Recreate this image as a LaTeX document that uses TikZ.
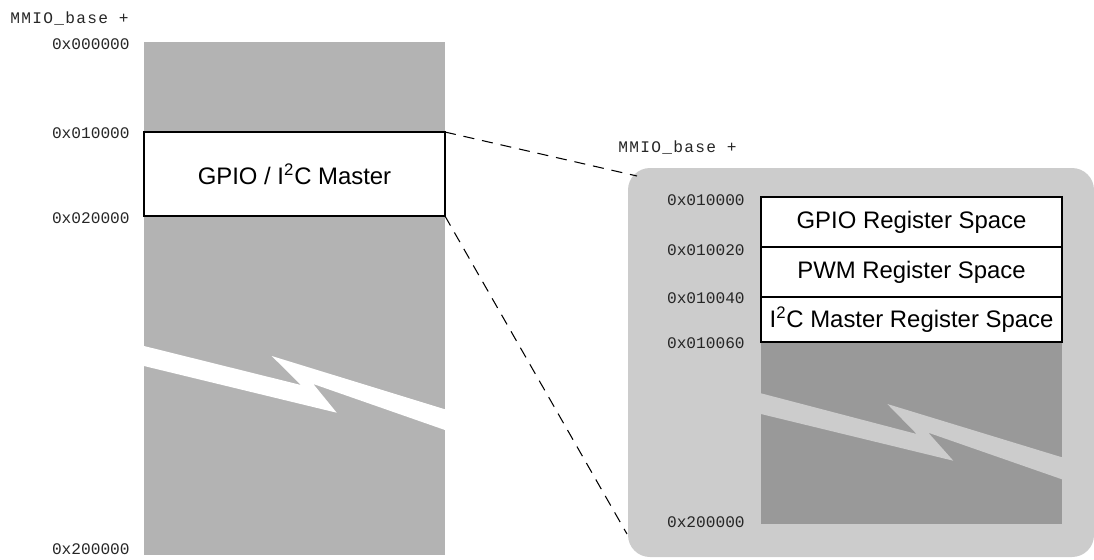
\documentclass[tikz,border=0pt]{standalone}
\usepackage{fontspec}
\setmainfont{Liberation Sans}
\newfontfamily\addrfont{Liberation Mono}
\usetikzlibrary{positioning}
\definecolor{memgray}{HTML}{B3B3B3}
\definecolor{zoomgray}{HTML}{CCCCCC}
\definecolor{darkgray}{HTML}{999999}

\begin{document}
\begin{tikzpicture}[x=0.02cm,y=-0.02cm,
  addr/.style={anchor=east,inner sep=0pt,text=black!85,font=\addrfont\fontsize{9.2}{11}\selectfont},
  base/.style={anchor=base west,inner sep=0pt,text=black!85,font=\addrfont\fontsize{9.2}{11}\selectfont\addfontfeatures{LetterSpace=8}},
  regbox/.style={draw,fill=white,line width=1.1pt,minimum width=6.02cm,inner sep=0pt,outer sep=0pt,font=\fontsize{13.6}{16}\selectfont}]
\useasboundingbox (0,0) rectangle (1094,559);
% whole memory map
\fill[memgray] (144,42) rectangle (445,555);
\fill[white] (144,346) -- (301,385) -- (271.7,356) -- (445,409.3) -- (445,430)
  -- (313.3,384) -- (336.7,412.7) -- (144,366) -- cycle;
\node[regbox,minimum height=1.68cm] (gpio) at (294.5,174) {GPIO / I\textsuperscript{2}C Master};
\node[base] (base1) at (10,23.3) {MMIO\_base +};
\node[addr] (a0) at (130,44) {0x000000};
\node[addr] (a1) at (130,133) {0x010000};
\node[addr] (a2) at (130,218) {0x020000};
\node[addr] (a3) at (130,549) {0x200000};
% zoomed part
\fill[zoomgray,rounded corners=0.44cm] (628,168) rectangle (1094,557);
\fill[darkgray] (761,342.3) rectangle (1062,524.3);
\fill[zoomgray] (761,393.3) -- (916.7,434) -- (887.3,404) -- (1062,457.3) -- (1062,479.3)
  -- (928.3,432.7) -- (953.3,460.7) -- (761,414) -- cycle;
\node[regbox,minimum height=1.0cm] (gpioreg) at (911.5,222.3) {GPIO Register Space};
\node[regbox,minimum height=1.0cm,below=0pt of gpioreg] (pwmreg) {PWM Register Space};
\node[regbox,minimum height=0.9cm,below=0pt of pwmreg] (i2creg) {I\textsuperscript{2}C Master Register Space};
\node[base] (base2) at (618,152) {MMIO\_base +};
\node[addr] (b0) at (745,200) {0x010000};
\node[addr] (b1) at (745,250) {0x010020};
\node[addr] (b2) at (745,297.7) {0x010040};
\node[addr] (b3) at (745,343) {0x010060};
\node[addr] (b4) at (745,522.5) {0x200000};
\coordinate (zt) at (637,176);
\coordinate (zb) at (627,534);
\draw[dash pattern=on 6.3pt off 4.5pt,line width=0.6pt] (gpio.north east) -- (zt);
\draw[dash pattern=on 6.3pt off 4.5pt,line width=0.6pt] (gpio.south east) -- (zb);
\end{tikzpicture}
\end{document}
